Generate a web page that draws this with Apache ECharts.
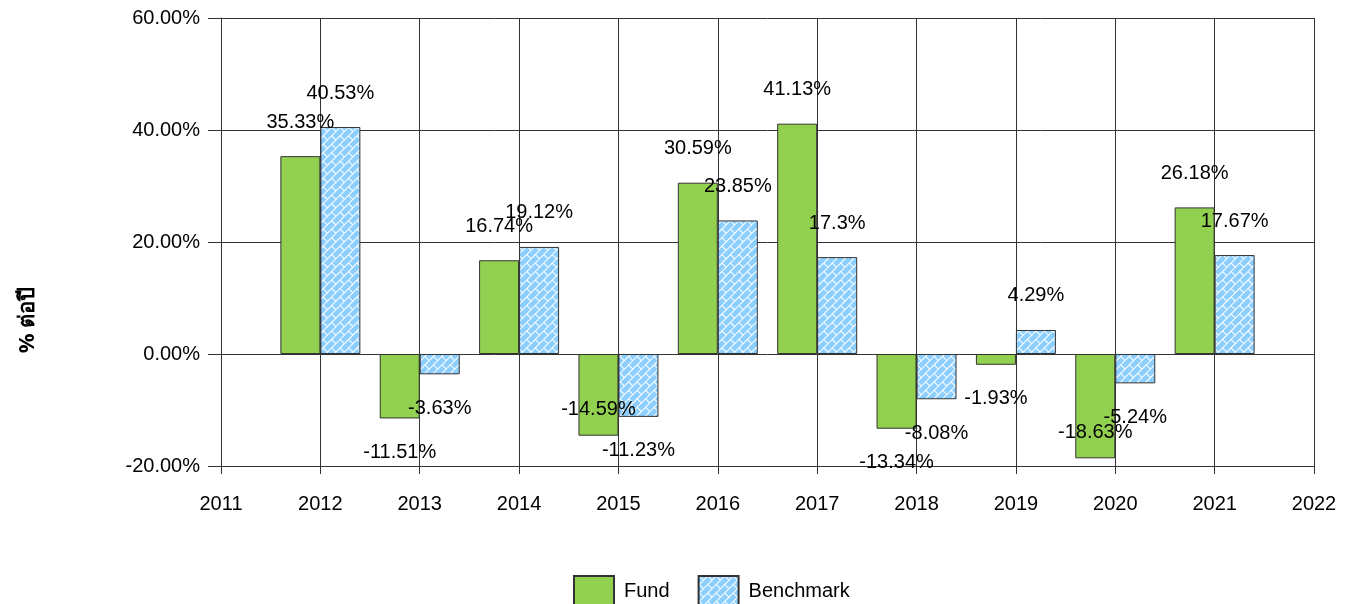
<!DOCTYPE html>
<html>
<head>
<meta charset="utf-8">
<script src="https://cdn.jsdelivr.net/npm/echarts@6/dist/echarts.min.js"></script>
<style>
  html, body { margin: 0; padding: 0; background: #fff; }
  #chart { width: 1346px; height: 604px; }
</style>
</head>
<body>
<div id="chart"></div>
<script>
const years = [2012, 2013, 2014, 2015, 2016, 2017, 2018, 2019, 2020, 2021]
const fundValues = [35.33, -11.51, 16.74, -14.59, 30.59, 41.13, -13.34, -1.93, -18.63, 26.18]
const benchmarkValues = [40.53, -3.63, 19.12, -11.23, 23.85, 17.3, -8.08, 4.29, -5.24, 17.67]
const yTicks = { min: -20, max: 60, step: 20 }
const xTicks = { min: 2011, max: 2022, step: 1 }
const seriesNames = ['Fund', 'Benchmark']
const axisTitle = '% ต่อปี'

const font = "'Liberation Sans', Arial, sans-serif"

// brick tile for the benchmark bars, rotated into a diagonal pattern
const makeBrick = () => {
  const c = document.createElement('canvas')
  c.width = 12
  c.height = 12
  const ctx = c.getContext('2d')
  ctx.fillStyle = '#8ccfff'
  ctx.fillRect(0, 0, 12, 12)
  ctx.fillStyle = '#ffffff'
  ctx.fillRect(0, 0, 12, 1)
  ctx.fillRect(0, 6, 12, 1)
  ctx.fillRect(0, 0, 1, 6)
  ctx.fillRect(6, 6, 1, 6)
  return c
}
const brick = { image: makeBrick(), repeat: 'repeat', rotation: -Math.PI / 4 }

const chart = echarts.init(document.getElementById('chart'))

const labelStyle = {
  show: true,
  position: 'outside',
  distance: 24,
  fontSize: 20,
  fontFamily: font,
  color: '#000',
  formatter: (p) => `${p.value[1]}%`
}

const options = {
  animation: false,
  backgroundColor: '#fff',
  grid: { left: 221, right: 32, top: 18, bottom: 138 },
  legend: {
    left: 573,
    top: 575,
    padding: 0,
    itemWidth: 40,
    itemHeight: 30,
    itemGap: 28,
    textStyle: { fontSize: 20, fontFamily: font, color: '#000', padding: [0, 0, 0, 5] },
    data: seriesNames.map(n => ({ name: n, icon: 'rect' }))
  },
  graphic: [
    {
      type: 'text',
      x: 28,
      y: 320,
      rotation: Math.PI / 2,
      style: {
        text: axisTitle,
        font: `bold 22px 'Noto Sans', ${font}`,
        fill: '#000',
        align: 'center',
        verticalAlign: 'middle'
      }
    }
  ],
  xAxis: {
    type: 'value',
    min: xTicks.min,
    max: xTicks.max,
    interval: xTicks.step,
    axisLine: { show: true, onZero: false, lineStyle: { color: '#333', width: 1 } },
    axisTick: { show: true, length: 8, lineStyle: { color: '#333' } },
    axisLabel: {
      margin: 28,
      fontSize: 20,
      fontFamily: font,
      color: '#000',
      formatter: (v) => String(v)
    },
    splitLine: { show: true, lineStyle: { color: '#333', width: 1 } }
  },
  yAxis: {
    type: 'value',
    min: yTicks.min,
    max: yTicks.max,
    interval: yTicks.step,
    axisLine: { show: true, onZero: false, lineStyle: { color: '#333', width: 1 } },
    axisTick: { show: true, length: 13, lineStyle: { color: '#333' } },
    axisLabel: {
      margin: 21,
      fontSize: 20,
      fontFamily: font,
      color: '#000',
      formatter: (v) => `${v.toFixed(2)}%`
    },
    splitLine: { show: true, lineStyle: { color: '#333', width: 1 } }
  },
  series: [
    {
      name: seriesNames[0],
      type: 'bar',
      barWidth: 40,
      barGap: '0%',
      data: years.map((y, i) => [y, fundValues[i]]),
      itemStyle: { color: '#92d050', borderColor: '#333', borderWidth: 1 },
      label: labelStyle
    },
    {
      name: seriesNames[1],
      type: 'bar',
      barWidth: 40,
      barGap: '0%',
      data: years.map((y, i) => [y, benchmarkValues[i]]),
      itemStyle: { color: brick, borderColor: '#333', borderWidth: 1 },
      label: labelStyle
    }
  ]
}

chart.setOption(options)

// labels that would fall below the plot area are pulled back inside the bar end
const plotBottom = chart.convertToPixel({ gridIndex: 0 }, [xTicks.min, yTicks.min])[1]
const keepInside = (p) => {
  const r = p.labelRect
  if (r.y + r.height / 2 > plotBottom) {
    const barEnd = p.rect.y + p.rect.height
    return { dy: (barEnd - 26 - r.height / 2) - r.y }
  }
  return {}
}
chart.setOption({ series: [{ labelLayout: keepInside }, { labelLayout: keepInside }] })
</script>
</body>
</html>
